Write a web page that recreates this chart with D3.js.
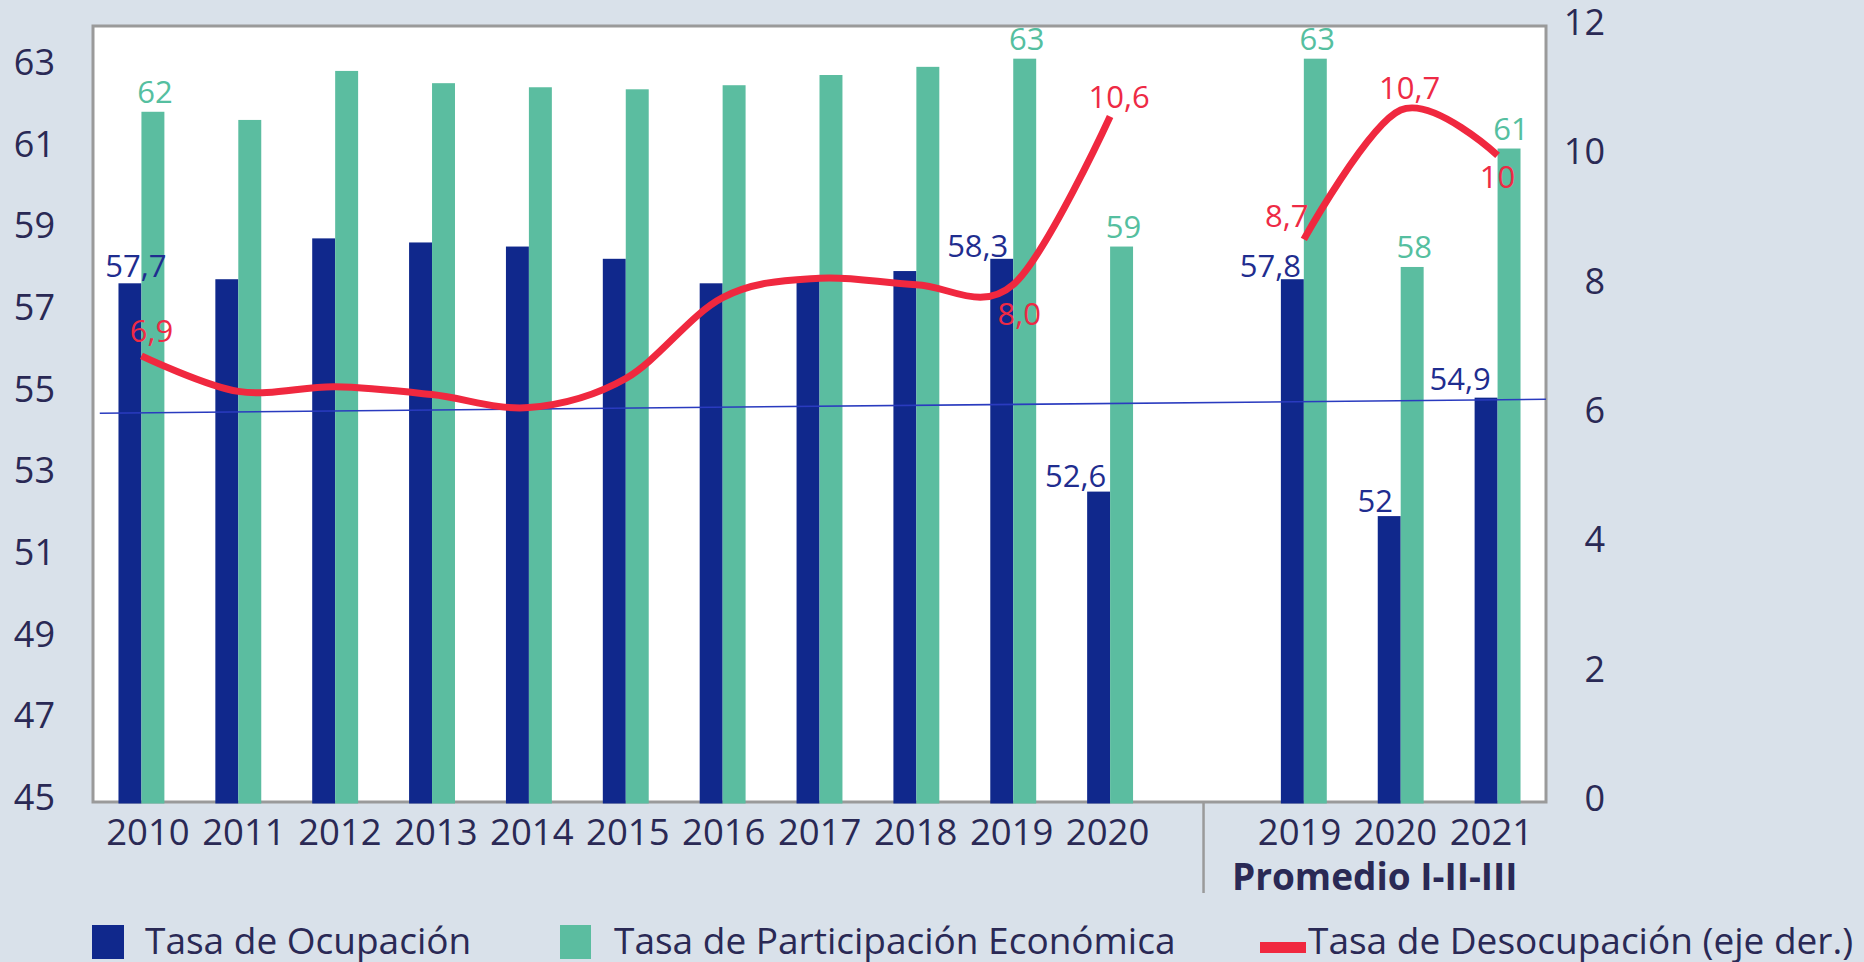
<!DOCTYPE html>
<html lang="es">
<head>
    <meta charset="utf-8">
    <title>Tasas de ocupación, participación y desocupación</title>
    <script type="text/javascript" src="https://cdn.jsdelivr.net/npm/d3@7"></script>
    <style>
        body { margin: 0; background: #d9e1ea; }
        svg { display: block; font-family: "Open Sans", "Noto Sans", sans-serif; }
    </style>
</head>
<body>
<script type="text/javascript">
    // categories: 2010-2020 annual, an empty slot, then the I-II-III averages
    var catKeys = ["2010", "2011", "2012", "2013", "2014", "2015", "2016", "2017", "2018", "2019", "2020",
        "gap", "p2019", "p2020", "p2021"];
    var tickLabels = ["2010", "2011", "2012", "2013", "2014", "2015", "2016", "2017", "2018", "2019", "2020",
        "", "2019", "2020", "2021"];
    var groupLabel = "Promedio I-II-III";

    var ocupacion = [57.7, 57.8, 58.8, 58.7, 58.6, 58.3, 57.7, 57.8, 58.0, 58.3, 52.6, null, 57.8, 52.0, 54.9];
    var participacion = [61.9, 61.7, 62.9, 62.6, 62.5, 62.45, 62.55, 62.8, 63.0, 63.2, 58.6, null, 63.2, 58.1, 61.0];
    var desocupacion = [6.9, 6.35, 6.42, 6.3, 6.1, 6.55, 7.8, 8.1, 8.0, 8.0, 10.6, null, 8.7, 10.7, 10.0];

    // thin reference line (left axis values at its two ends, in category units)
    var refLineIdx = [-0.43, 14.5];
    var refLineVals = [54.52, 54.86];

    // data labels shown in the chart
    var labelIdx = [0, 9, 10, 12, 13, 14];
    var ocupacionText = ["57,7", "58,3", "52,6", "57,8", "52", "54,9"];
    var participacionText = ["62", "63", "59", "63", "58", "61"];
    var desocupacionText = ["6,9", "8,0", "10,6", "8,7", "10,7", "10"];

    var leftTicks = [45, 47, 49, 51, 53, 55, 57, 59, 61, 63];
    var rightTicks = [0, 2, 4, 6, 8, 10, 12];

    var seriesNames = ["Tasa de Ocupación", "Tasa de Participación Económica", "Tasa de Desocupación (eje der.)"];

    // layout
    var w = 1864, h = 962;
    var x0 = 93, x1 = 1546, y0 = 26, y1 = 802;
    var navy = "#10288c", green = "#5bbda0", red = "#f0283f", ink = "#2a2955";

    // label nudges (pixels)
    var ocuDx = [6, -24, -23, -22, -14, -26], ocuDy = [-6, -2, -5, -2, -4, -8];
    var desDx = [10, 6, 9, -17, 9, 0], desDy = [-14, 40, -9, -12, -11, 33];

    var svg = d3.select("body").append("svg")
        .attr("width", w)
        .attr("height", h);

    svg.append("rect").attr("width", w).attr("height", h).attr("fill", "#d9e1ea");

    var xScale = d3.scaleBand().domain(catKeys).range([x0, x1]);
    var xLabel = xScale.copy().range([100, 1539.4]);
    var xSub = d3.scaleBand().domain(["ocu", "par"]).range([0, xScale.bandwidth()]).paddingOuter(1.11);
    var yL = d3.scaleLinear().domain([45, 64]).range([y1, y0]);
    var yR = d3.scaleLinear().domain([0, 12]).range([y1, y0]);
    var xIdx = d3.scaleLinear().domain([0, 1]).range([xScale(catKeys[0]) + xScale.bandwidth() / 2,
        xScale(catKeys[1]) + xScale.bandwidth() / 2]);

    // plot area
    svg.append("rect")
        .attr("x", x0).attr("y", y0)
        .attr("width", x1 - x0).attr("height", y1 - y0)
        .attr("fill", "#fff")
        .attr("stroke", "#9a9a9a")
        .attr("stroke-width", 3);

    function cx(i) { return xScale(catKeys[i]) + xScale.bandwidth() / 2; }

    var rows = catKeys.map(function(k, i) {
        return {key: k, ocu: ocupacion[i], par: participacion[i]};
    }).filter(function(d) { return d.ocu != null; });

    var groups = svg.selectAll("g.cat")
        .data(rows)
        .enter()
        .append("g")
        .attr("class", "cat")
        .attr("transform", function(d) { return "translate(" + xScale(d.key) + ",0)"; });

    groups.append("rect")
        .attr("x", xSub("ocu"))
        .attr("width", xSub.bandwidth())
        .attr("y", function(d) { return yL(d.ocu); })
        .attr("height", function(d) { return y1 + 1.5 - yL(d.ocu); })
        .attr("fill", navy);

    groups.append("rect")
        .attr("x", xSub("par"))
        .attr("width", xSub.bandwidth())
        .attr("y", function(d) { return yL(d.par); })
        .attr("height", function(d) { return y1 + 1.5 - yL(d.par); })
        .attr("fill", green);

    // thin blue reference line
    svg.append("line")
        .attr("x1", xIdx(refLineIdx[0])).attr("y1", yL(refLineVals[0]))
        .attr("x2", xIdx(refLineIdx[1])).attr("y2", yL(refLineVals[1]))
        .attr("stroke", "#2a3bbf")
        .attr("stroke-width", 1.6);

    // unemployment line, smoothed, broken at the empty slot
    var line = d3.line()
        .defined(function(d) { return d != null; })
        .x(function(d, i) { return cx(i); })
        .y(function(d) { return yR(d); })
        .curve(d3.curveCardinal.tension(0));

    svg.append("path")
        .attr("d", line(desocupacion))
        .attr("fill", "none")
        .attr("stroke", red)
        .attr("stroke-width", 7)
        .attr("stroke-linejoin", "round");

    // data labels
    var labels = svg.append("g").attr("font-size", "31px").attr("text-anchor", "middle");

    labels.selectAll("text.ocu")
        .data(labelIdx)
        .enter()
        .append("text")
        .attr("class", "ocu")
        .text(function(d, j) { return ocupacionText[j]; })
        .attr("x", function(d, j) { return xScale(catKeys[d]) + xSub("ocu") + xSub.bandwidth() / 2 + ocuDx[j]; })
        .attr("y", function(d, j) { return yL(ocupacion[d]) + ocuDy[j]; })
        .attr("fill", "#1f2d8f");

    labels.selectAll("text.par")
        .data(labelIdx)
        .enter()
        .append("text")
        .attr("class", "par")
        .text(function(d, j) { return participacionText[j]; })
        .attr("x", function(d) { return xScale(catKeys[d]) + xSub("par") + xSub.bandwidth() / 2 + 2; })
        .attr("y", function(d) { return yL(participacion[d]) - 9; })
        .attr("fill", "#55bfa0");

    labels.selectAll("text.des")
        .data(labelIdx)
        .enter()
        .append("text")
        .attr("class", "des")
        .text(function(d, j) { return desocupacionText[j]; })
        .attr("x", function(d, j) { return cx(d) + desDx[j]; })
        .attr("y", function(d, j) { return yR(desocupacion[d]) + desDy[j]; })
        .attr("fill", "#ee2a45");

    // axes
    var leftAxis = svg.append("g")
        .attr("transform", "translate(55,-4)")
        .call(d3.axisLeft(yL).tickValues(leftTicks).tickSize(0).tickPadding(0));
    var rightAxis = svg.append("g")
        .attr("transform", "translate(1605,-3)")
        .call(d3.axisLeft(yR).tickValues(rightTicks).tickSize(0).tickPadding(0));
    var bottomAxis = svg.append("g")
        .attr("transform", "translate(0," + y1 + ")")
        .call(d3.axisBottom(xLabel).tickSize(0).tickPadding(17)
            .tickFormat(function(d, i) { return tickLabels[i]; }));

    [leftAxis, rightAxis, bottomAxis].forEach(function(a) {
        a.select(".domain").remove();
        a.selectAll("text")
            .attr("fill", ink)
            .attr("font-family", "'Open Sans', sans-serif")
            .attr("font-size", "36px");
    });
    bottomAxis.selectAll("text").attr("font-size", "36.5px");

    // separator between annual values and the averages, plus group label
    var sepX = xLabel("gap") + xLabel.bandwidth() / 2;
    svg.append("line")
        .attr("x1", sepX).attr("x2", sepX)
        .attr("y1", y1 + 1).attr("y2", 893)
        .attr("stroke", "#9a9a9a")
        .attr("stroke-width", 2.5);

    svg.append("text")
        .text(groupLabel)
        .attr("x", (sepX + x1) / 2)
        .attr("y", 890)
        .attr("text-anchor", "middle")
        .attr("font-size", "37px")
        .attr("font-weight", "bold")
        .attr("fill", ink);

    // legend
    var legendSwatchX = [92, 560, 1260];
    var legendTextX = [145, 614, 1308];
    var legend = svg.append("g");

    legend.selectAll("text")
        .data(seriesNames)
        .enter()
        .append("text")
        .text(function(d) { return d; })
        .attr("x", function(d, i) { return legendTextX[i]; })
        .attr("y", 954)
        .attr("font-size", "37px")
        .attr("fill", ink);

    legend.append("rect").attr("x", legendSwatchX[0]).attr("y", 925).attr("width", 32).attr("height", 34).attr("fill", navy);
    legend.append("rect").attr("x", legendSwatchX[1]).attr("y", 925).attr("width", 31).attr("height", 34).attr("fill", green);
    legend.append("rect").attr("x", legendSwatchX[2]).attr("y", 942).attr("width", 46).attr("height", 11).attr("fill", red);
</script>
</body>
</html>
